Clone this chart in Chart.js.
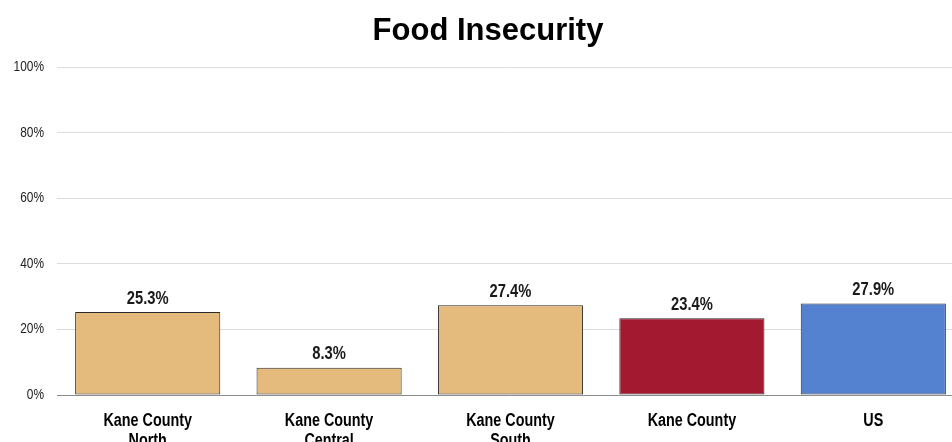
<!DOCTYPE html>
<html><head><meta charset="utf-8">
<script src="https://cdn.jsdelivr.net/npm/chart.js@4/dist/chart.umd.min.js"></script>
<style>html,body{margin:0;padding:0;overflow:hidden;background:#fff;width:952px;height:442px}#wrap{width:976px;height:455px;position:relative}</style>
</head><body><div id="wrap"><canvas id="c"></canvas></div>
<script>
const categories = [["Kane County","North"],["Kane County","Central"],["Kane County","South"],["Kane County"],["US"]];
const values = [25.3, 8.3, 27.4, 23.4, 27.9];
const barColors = ["#E4BB7D","#E4BB7D","#E4BB7D","#A3192F","#5581D1"];
const yTicks = [0,20,40,60,80,100];
const FONT = '"Liberation Sans", Arial, sans-serif';
const SQUEEZE = 0.82;

function condensedText(ctx, text, x, y, font, align, baseline, color){
  ctx.save();
  ctx.font = font;
  ctx.fillStyle = color;
  ctx.textAlign = align;
  ctx.textBaseline = baseline;
  ctx.translate(x, y);
  ctx.scale(SQUEEZE, 1);
  ctx.fillText(text, 0, 0);
  ctx.restore();
}

const labelPlugin = {
  id:'textLabels',
  afterDraw(chart){
    const ctx = chart.ctx;
    const meta = chart.getDatasetMeta(0);
    const xs = chart.scales.x, ys = chart.scales.y;
    meta.data.forEach((bar,i)=>{
      condensedText(ctx, values[i].toFixed(1)+'%', bar.x, bar.y - 8.5, 'bold 18px '+FONT, 'center', 'alphabetic', '#1a1a1a');
    });
    categories.forEach((lines,i)=>{
      const x = xs.getPixelForValue(i);
      lines.forEach((ln,j)=>{
        condensedText(ctx, ln, x, xs.top + 31 + j*19.5, 'bold 17.5px '+FONT, 'center', 'alphabetic', '#000');
      });
    });
    yTicks.forEach(v=>{
      condensedText(ctx, v+'%', ys.right - 13, ys.getPixelForValue(v), '14.5px '+FONT, 'right', 'middle', '#222');
    });
  }
};

new Chart(document.getElementById('c'),{
  type:'bar',
  data:{labels:categories,datasets:[{data:values,backgroundColor:barColors,borderColor:'#2a2a2a',borderWidth:1,borderSkipped:false,barPercentage:0.8,categoryPercentage:1}]},
  options:{
    responsive:true,maintainAspectRatio:false,animation:false,
    layout:{padding:{left:12,right:12,top:0,bottom:0}},
    plugins:{
      legend:{display:false},tooltip:{enabled:false},
      title:{display:true,text:'Food Insecurity',color:'#000',font:{family:FONT,size:31,weight:'bold'},padding:{top:13,bottom:17}}
    },
    scales:{
      x:{grid:{display:false,drawTicks:false},border:{display:false},
        ticks:{display:false},
        afterFit(s){s.height = 60;}},
      y:{min:0,max:100,
        afterBuildTicks(s){s.ticks=yTicks.map(v=>({value:v}));},
        grid:{drawTicks:false,color:(c)=>c.tick && c.tick.value===0?'#8c8c8c':'#dcdcdc',lineWidth:1},
        border:{display:false},
        ticks:{display:false},
        afterFit(s){s.width = 45;}}
    }
  },
  plugins:[labelPlugin]
});
</script></body></html>
